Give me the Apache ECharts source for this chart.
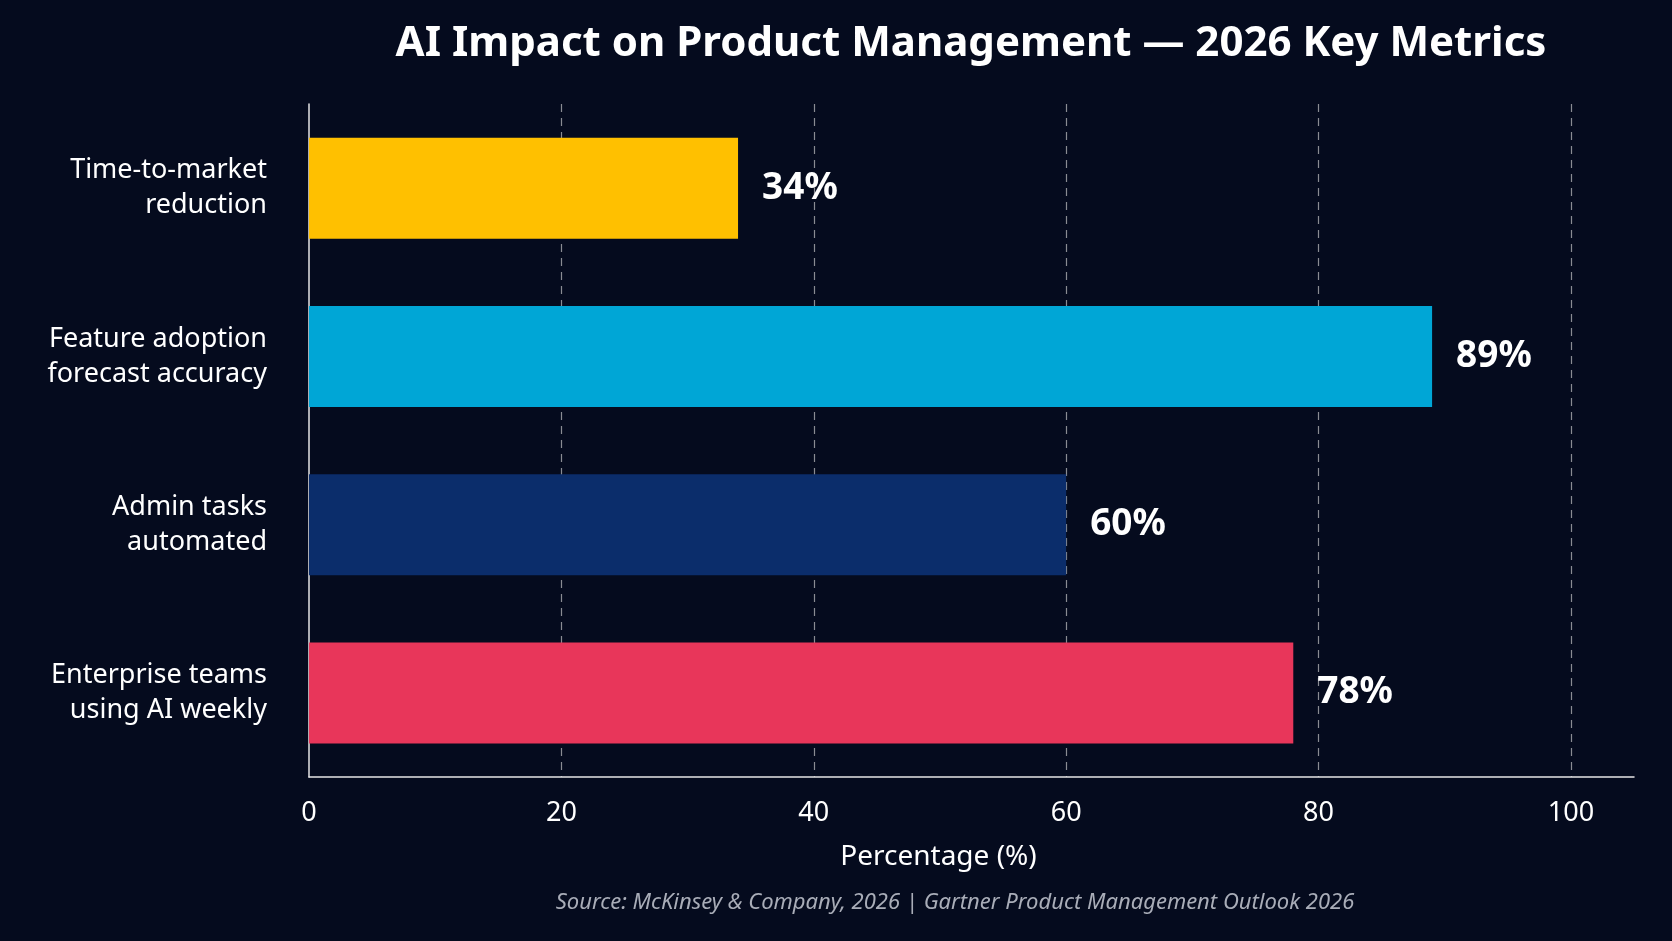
<!DOCTYPE html>
<html>
<head>
<meta charset="utf-8">
<script src="https://cdn.jsdelivr.net/npm/echarts@6/dist/echarts.min.js"></script>
<style>
html,body{margin:0;padding:0;background:#050b1e;}
#chart{width:1672px;height:941px;}
</style>
</head>
<body>
<div id="chart"></div>
<script>
const categories = ['Time-to-market\nreduction', 'Feature adoption\nforecast accuracy', 'Admin tasks\nautomated', 'Enterprise teams\nusing AI weekly'];
const values = [34, 89, 60, 78];
const barColors = ['#FFC000', '#00A6D6', '#0B2D6B', '#E8365A'];
const xTicks = [0, 20, 40, 60, 80, 100];
const titleText = 'AI Impact on Product Management \u2014 2026 Key Metrics';
const sourceText = 'Source: McKinsey & Company, 2026 | Gartner Product Management Outlook 2026';
const xAxisName = 'Percentage (%)';

const FONT = '"Noto Sans", "Open Sans", sans-serif';
const chart = echarts.init(document.getElementById('chart'));
chart.setOption({
  backgroundColor: '#050b1e',
  animation: false,
  title: [
    {
      text: titleText,
      left: 966, top: 18, textAlign: 'center',
      textStyle: { color: '#ffffff', fontSize: 42, fontWeight: 'bold', fontFamily: FONT }
    },
    {
      text: sourceText,
      left: 950, top: 887, textAlign: 'center',
      textStyle: { color: '#a9adb8', fontSize: 22, fontStyle: 'italic', fontWeight: 'normal', fontFamily: FONT }
    }
  ],
  grid: { left: 309, right: 38, top: 104, bottom: 164, containLabel: false },
  xAxis: {
    type: 'value', min: 0, max: 105, interval: 20,
    name: xAxisName, nameLocation: 'middle', nameGap: 66,
    nameTextStyle: { color: '#ffffff', fontSize: 28, fontFamily: FONT, padding: [0, 66, 0, 0] },
    axisLine: { show: true, lineStyle: { color: '#e6e6e6', width: 1.5 } },
    axisTick: { show: false },
    axisLabel: {
      color: '#ffffff', fontSize: 27, fontFamily: FONT, margin: 23,
      showMaxLabel: false,
      formatter: v => (xTicks.indexOf(v) >= 0 ? String(v) : '')
    },
    splitLine: {
      show: true, showMinLine: false, showMaxLine: false,
      lineStyle: { color: 'rgba(210,210,210,0.65)', type: [8, 6], width: 1.2 }
    }
  },
  yAxis: {
    type: 'category', data: categories, inverse: true,
    axisLine: { show: true, lineStyle: { color: '#e6e6e6', width: 1.5 } },
    axisTick: { show: false },
    axisLabel: {
      color: '#ffffff', fontSize: 27, fontFamily: FONT, margin: 42,
      lineHeight: 35, align: 'right'
    }
  },
  series: [{
    type: 'bar',
    barWidth: 101,
    data: values.map((v, i) => ({ value: v, itemStyle: { color: barColors[i] } })),
    label: {
      show: true, position: 'right', distance: 24,
      formatter: p => p.value + '%',
      color: '#ffffff', fontSize: 37, fontWeight: 'bold', fontFamily: FONT
    }
  }]
});
</script>
</body>
</html>
